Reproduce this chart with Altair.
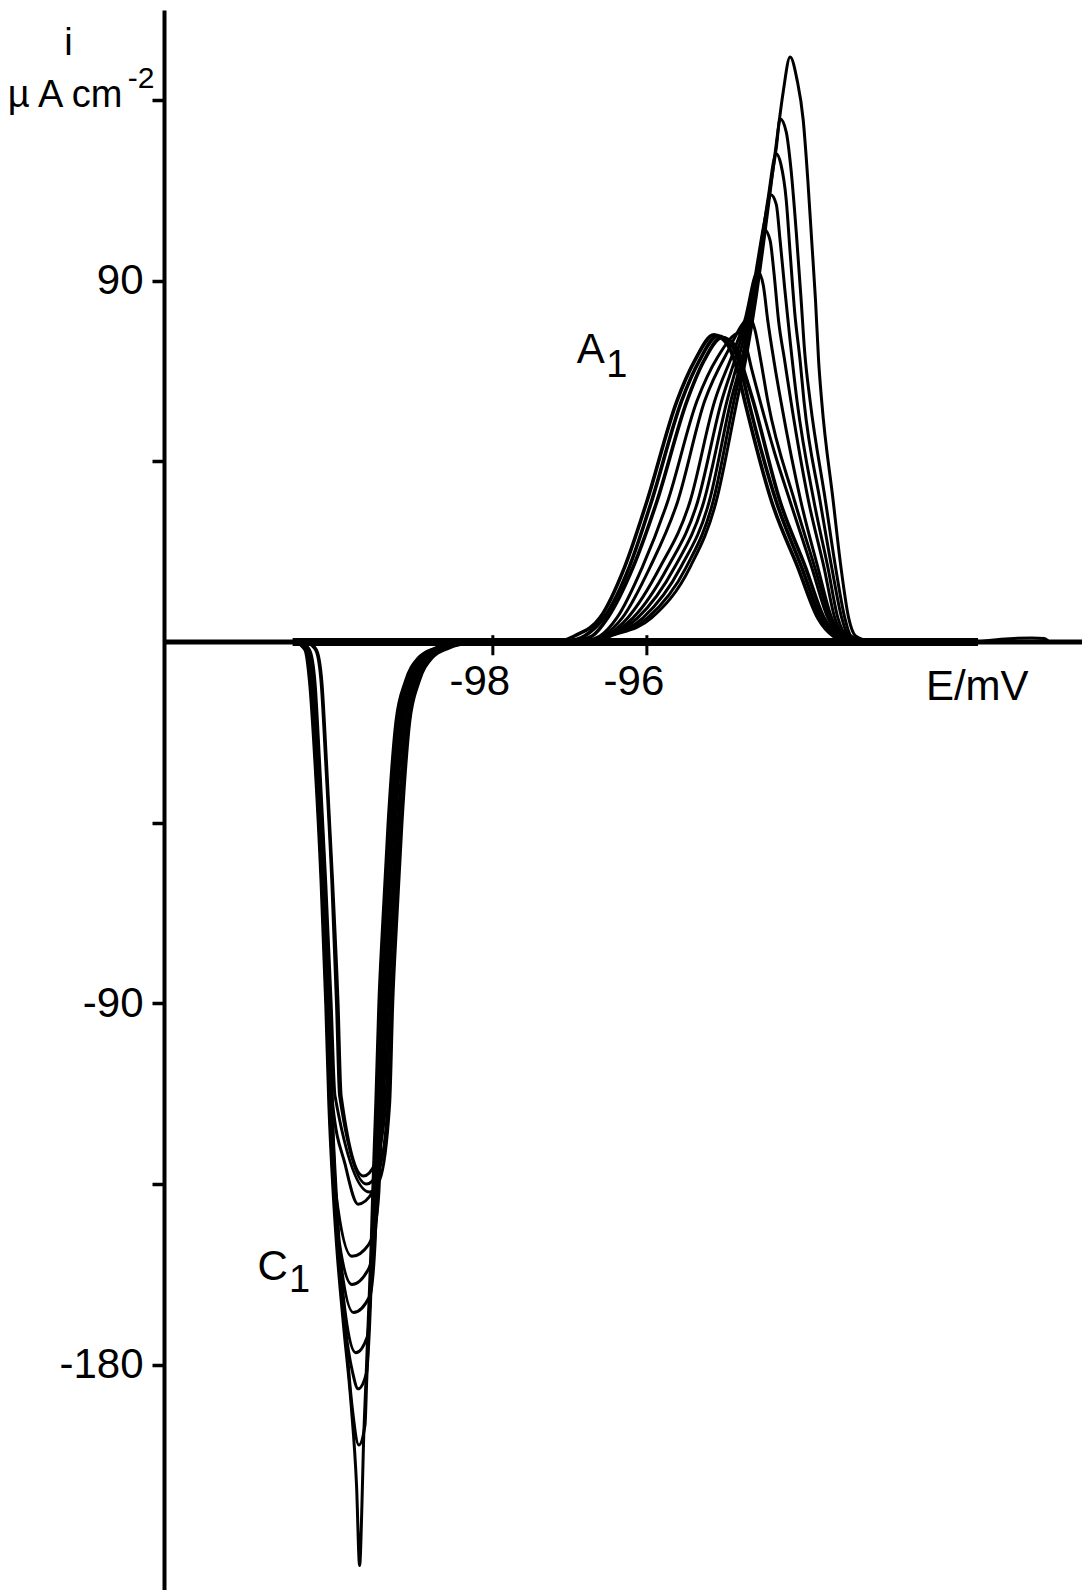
import altair as alt
import pandas as pd

# ---------------- data (E in mV, i in uA cm^-2) ----------------
# anodic peak A1 : successive sweeps (a1-a3 = thick group, a11 = tallest)
anodic_1 = [(-97.13, 0), (-96.94, 1.5), (-96.61, 6), (-96.29, 18.6), (-96.00, 35), (-95.61, 60), (-95.38, 70),
            (-95.13, 76.5), (-94.95, 74), (-94.83, 68), (-94.73, 60), (-94.38, 35), (-94.04, 18.6), (-93.78, 6),
            (-93.58, 1.5), (-93.36, 0)]
anodic_2 = [(-97.06, 0), (-96.81, 1.5), (-96.56, 6), (-96.23, 18.6), (-95.94, 35), (-95.55, 60), (-95.32, 70),
            (-95.08, 76.2), (-94.90, 74), (-94.78, 68), (-94.68, 60), (-94.32, 35), (-93.99, 18.6), (-93.74, 6),
            (-93.55, 1.5), (-93.34, 0)]
anodic_3 = [(-97.00, 0), (-96.71, 1.5), (-96.51, 6), (-96.18, 18.6), (-95.87, 35), (-95.48, 60), (-95.26, 70),
            (-95.03, 75.8), (-94.84, 73.5), (-94.73, 67), (-94.62, 60), (-94.27, 35), (-93.94, 18.6), (-93.70, 6),
            (-93.52, 1.5), (-93.31, 0)]
anodic_4 = [(-96.87, 0), (-96.61, 1.5), (-96.39, 6), (-96.06, 18.6), (-95.73, 35), (-95.35, 60), (-95.08, 71),
            (-94.79, 77), (-94.73, 75), (-94.64, 68), (-94.53, 60), (-94.34, 47), (-94.14, 35), (-93.86, 18.6),
            (-93.65, 6), (-93.49, 1.5), (-93.29, 0)]
anodic_5 = [(-96.81, 0), (-96.57, 1.5), (-96.32, 6), (-95.96, 18.6), (-95.60, 35), (-95.25, 60), (-94.96, 72),
            (-94.66, 80.6), (-94.60, 78), (-94.52, 70), (-94.43, 60), (-94.08, 35), (-93.82, 18.6), (-93.62, 6),
            (-93.47, 1.5), (-93.26, 0)]
anodic_6 = [(-96.77, 0), (-96.53, 1.5), (-96.25, 6), (-95.83, 18.6), (-95.44, 35), (-95.12, 60), (-94.88, 72),
            (-94.73, 80), (-94.56, 92.3), (-94.49, 89), (-94.43, 80), (-94.35, 70), (-94.26, 60), (-94.00, 35),
            (-93.78, 18.6), (-93.60, 6), (-93.45, 1.5), (-93.23, 0)]
anodic_7 = [(-96.74, 0), (-96.52, 1.5), (-96.18, 6), (-95.73, 18.6), (-95.34, 35), (-95.03, 60), (-94.83, 72),
            (-94.69, 82), (-94.57, 92), (-94.47, 102.7), (-94.40, 100), (-94.35, 92), (-94.29, 80), (-94.21, 70),
            (-94.13, 60), (-93.90, 35), (-93.70, 18.6), (-93.56, 6), (-93.43, 1.5), (-93.21, 0)]
anodic_8 = [(-96.73, 0), (-96.51, 1.5), (-96.12, 6), (-95.64, 18.6), (-95.26, 35), (-94.96, 60), (-94.79, 72),
            (-94.66, 83), (-94.56, 95), (-94.47, 105), (-94.39, 111.4), (-94.32, 109), (-94.27, 100), (-94.21, 88),
            (-94.14, 75), (-94.05, 60), (-93.83, 35), (-93.65, 18.6), (-93.52, 6), (-93.40, 1.5), (-93.18, 0)]
anodic_9 = [(-96.71, 0), (-96.49, 1.5), (-96.05, 6), (-95.56, 18.6), (-95.19, 35), (-94.91, 60), (-94.75, 72),
            (-94.64, 84), (-94.53, 97), (-94.43, 110), (-94.32, 121.6), (-94.26, 119), (-94.19, 110), (-94.14, 97),
            (-94.08, 82), (-94.01, 70), (-93.96, 60), (-93.75, 35), (-93.60, 18.6), (-93.47, 6), (-93.38, 1.5),
            (-93.16, 0)]
anodic_10 = [(-96.70, 0), (-96.48, 1.5), (-95.99, 6), (-95.49, 18.6), (-95.14, 35), (-94.87, 60), (-94.73, 72),
             (-94.61, 85), (-94.51, 98), (-94.40, 113), (-94.32, 123), (-94.27, 130.3), (-94.19, 127), (-94.13, 118),
             (-94.06, 102), (-94.00, 86), (-93.95, 72), (-93.88, 60), (-93.68, 35), (-93.55, 18.6), (-93.43, 6),
             (-93.35, 1.5), (-93.13, 0)]
anodic_11 = [(-96.69, 0), (-96.47, 1.5), (-95.94, 6), (-95.44, 18.6), (-95.10, 35), (-94.83, 60), (-94.70, 72),
             (-94.58, 86), (-94.48, 100), (-94.38, 115), (-94.30, 127), (-94.23, 137), (-94.14, 145.7), (-94.05, 140),
             (-93.97, 130), (-93.91, 115), (-93.86, 100), (-93.81, 85), (-93.77, 70), (-93.73, 60), (-93.58, 35),
             (-93.48, 18.6), (-93.38, 6), (-93.29, 1.5), (-93.08, 0)]

# cathodic peak C1 : successive sweeps (c1-c3 = thick group, c11 = deepest)
cathodic_1 = [(-100.40, 0), (-100.29, -2), (-100.22, -10), (-100.16, -30), (-100.08, -60), (-100.01, -90),
              (-99.97, -113), (-99.68, -133), (-99.53, -130), (-99.39, -115), (-99.35, -90), (-99.30, -70),
              (-99.23, -45), (-99.13, -20), (-99.01, -10), (-98.84, -4), (-98.62, -1.5), (-98.27, 0)]
cathodic_2 = [(-100.42, 0), (-100.30, -2), (-100.23, -10), (-100.17, -30), (-100.09, -60), (-100.03, -90),
              (-99.99, -113), (-99.64, -135), (-99.49, -132), (-99.36, -115), (-99.32, -90), (-99.27, -70),
              (-99.21, -45), (-99.10, -20), (-98.99, -10), (-98.82, -4), (-98.60, -1.5), (-98.25, 0)]
cathodic_3 = [(-100.49, 0), (-100.38, -2), (-100.31, -10), (-100.25, -30), (-100.17, -60), (-100.10, -90),
              (-100.05, -113), (-99.60, -137), (-99.47, -134), (-99.34, -115), (-99.30, -90), (-99.25, -70),
              (-99.18, -45), (-99.08, -20), (-98.96, -10), (-98.79, -4), (-98.57, -1.5), (-98.22, 0)]
cathodic_4 = [(-100.51, 0), (-100.39, -2), (-100.32, -10), (-100.26, -30), (-100.18, -60), (-100.12, -90),
              (-100.08, -115), (-99.92, -130), (-99.75, -140), (-99.56, -137), (-99.42, -115), (-99.38, -90),
              (-99.32, -70), (-99.26, -45), (-99.16, -20), (-99.04, -10), (-98.87, -4), (-98.65, -1.5), (-98.30, 0)]
cathodic_5 = [(-100.52, 0), (-100.40, -2), (-100.34, -10), (-100.27, -30), (-100.19, -60), (-100.13, -90),
              (-100.09, -115), (-100.04, -137), (-99.83, -153), (-99.61, -150), (-99.51, -143), (-99.48, -137),
              (-99.44, -115), (-99.40, -90), (-99.35, -70), (-99.29, -45), (-99.18, -20), (-99.06, -10),
              (-98.90, -4), (-98.68, -1.5), (-98.32, 0)]
cathodic_6 = [(-100.52, 0), (-100.40, -2), (-100.34, -10), (-100.27, -30), (-100.19, -60), (-100.13, -90),
              (-100.09, -115), (-100.04, -135), (-99.99, -150), (-99.83, -160), (-99.61, -156), (-99.53, -148),
              (-99.49, -137), (-99.45, -115), (-99.42, -90), (-99.36, -70), (-99.30, -45), (-99.19, -20),
              (-99.08, -10), (-98.91, -4), (-98.69, -1.5), (-98.34, 0)]
cathodic_7 = [(-100.53, 0), (-100.42, -2), (-100.35, -10), (-100.29, -30), (-100.21, -60), (-100.14, -90),
              (-100.10, -115), (-100.05, -135), (-99.99, -152), (-99.81, -167), (-99.60, -163), (-99.53, -150),
              (-99.51, -137), (-99.47, -115), (-99.43, -90), (-99.38, -70), (-99.31, -45), (-99.21, -20),
              (-99.09, -10), (-98.92, -4), (-98.70, -1.5), (-98.35, 0)]
cathodic_8 = [(-100.53, 0), (-100.42, -2), (-100.35, -10), (-100.29, -30), (-100.21, -60), (-100.14, -90),
              (-100.10, -115), (-100.05, -135), (-100.00, -150), (-99.91, -168), (-99.78, -177), (-99.63, -173),
              (-99.58, -160), (-99.55, -150), (-99.52, -137), (-99.48, -115), (-99.44, -90), (-99.39, -70),
              (-99.32, -45), (-99.22, -20), (-99.10, -10), (-98.94, -4), (-98.71, -1.5), (-98.36, 0)]
cathodic_9 = [(-100.55, 0), (-100.43, -2), (-100.36, -10), (-100.30, -30), (-100.22, -60), (-100.16, -90),
              (-100.12, -115), (-100.07, -135), (-100.01, -150), (-99.92, -170), (-99.82, -182), (-99.75, -186),
              (-99.64, -182), (-99.60, -170), (-99.56, -150), (-99.53, -137), (-99.49, -115), (-99.45, -90),
              (-99.40, -70), (-99.34, -45), (-99.23, -20), (-99.12, -10), (-98.95, -4), (-98.73, -1.5), (-98.38, 0)]
cathodic_10 = [(-100.55, 0), (-100.43, -2), (-100.36, -10), (-100.30, -30), (-100.22, -60), (-100.16, -90),
               (-100.12, -115), (-100.07, -135), (-100.01, -150), (-99.92, -170), (-99.83, -190), (-99.74, -200),
               (-99.66, -195), (-99.64, -185), (-99.61, -170), (-99.57, -150), (-99.55, -137), (-99.51, -115),
               (-99.47, -90), (-99.42, -70), (-99.35, -45), (-99.25, -20), (-99.13, -10), (-98.96, -4),
               (-98.74, -1.5), (-98.39, 0)]
cathodic_11 = [(-100.56, 0), (-100.44, -2), (-100.38, -10), (-100.31, -30), (-100.23, -60), (-100.17, -90),
               (-100.13, -115), (-100.08, -135), (-100.03, -150), (-99.94, -170), (-99.84, -190), (-99.77, -210),
               (-99.73, -230), (-99.70, -215), (-99.68, -200), (-99.65, -185), (-99.62, -170), (-99.58, -150),
               (-99.56, -137), (-99.52, -115), (-99.48, -90), (-99.43, -70), (-99.36, -45), (-99.26, -20),
               (-99.14, -10), (-98.97, -4), (-98.75, -1.5), (-98.40, 0)]

# small loop on the baseline near the right end
baseline_loop = [(-91.71, 0), (-91.40, 0.7), (-91.00, 1.0), (-90.84, 0.9), (-90.79, 0.3)]

# stretch of the baseline retraced by all sweeps
baseline_trace_E = [-100.6, -91.7]

x_domain = [-102.27, -90.35]
y_domain = [-236.1, 157.4]

x_tick_values = [-98, -96]
x_tick_labels = ["-98", "-96"]
y_tick_values = [135, 90, 45, -45, -90, -135, -180]

peak_letters = ["A", "C"]
peak_letters_E = [-96.73, -100.86]
peak_letters_i = [69.5, -158.9]
peak_subs = ["1", "1"]
peak_subs_E = [-96.39, -100.51]
peak_subs_i = [66.0, -161.9]

x_title = "E/mV"
x_title_E = -91.71
y_title_top = "i"
y_title_main = "\u00b5 A cm"
y_title_sup = "-2"
y_title_E = [-103.51, -104.30, -102.74]
y_title_i = [146.2, 133.3, 138.0]

# ---------------- build tables ----------------
thick_names = {"a1", "a2", "a3"}
curve_sets = [("a%d" % (n + 1), c) for n, c in enumerate(
    [anodic_1, anodic_2, anodic_3, anodic_4, anodic_5, anodic_6, anodic_7, anodic_8, anodic_9, anodic_10, anodic_11])]
curve_sets += [("c%d" % (n + 1), c) for n, c in enumerate(
    [cathodic_1, cathodic_2, cathodic_3, cathodic_4, cathodic_5, cathodic_6, cathodic_7, cathodic_8, cathodic_9,
     cathodic_10, cathodic_11])]
curve_sets += [("loop", baseline_loop)]

rows = []
for name, pts in curve_sets:
    for k, (e, i) in enumerate(pts):
        rows.append({"curve": name, "E": e, "i": i, "k": k, "thick": name in thick_names})
df = pd.DataFrame(rows)

FONT = "Liberation Sans"
xs = alt.Scale(domain=x_domain, nice=False, zero=False)
ys = alt.Scale(domain=y_domain, nice=False, zero=False)

label_expr = ("datum.value == 90 ? '90' : datum.value == -90 ? '-90' : "
              "datum.value == -180 ? '-180' : ''")

y_axis = alt.Axis(values=y_tick_values, labelExpr=label_expr, title=None, grid=False,
                  domainColor="black", domainWidth=4, tickColor="black", tickWidth=3.5, tickSize=12,
                  labelFont=FONT, labelFontSize=42, labelColor="black", labelPadding=9,
                  labelOverlap=False, labelFlush=False)

curves = alt.Chart(df).mark_line(color="black", interpolate="monotone").encode(
    x=alt.X("E:Q", scale=xs, axis=None),
    y=alt.Y("i:Q", scale=ys, axis=y_axis),
    detail="curve:N",
    order="k:Q",
    strokeWidth=alt.condition("datum.thick", alt.value(3.6), alt.value(3)),
)

zero_df = pd.DataFrame({"i": [0]})
zero_line = alt.Chart(zero_df).mark_rule(color="black", strokeWidth=5).encode(
    y=alt.Y("i:Q", scale=ys))

trace_df = pd.DataFrame({"E": [baseline_trace_E[0]], "E2": [baseline_trace_E[1]], "i": [0]})
trace = alt.Chart(trace_df).mark_rule(color="black", strokeWidth=8).encode(
    x=alt.X("E:Q", scale=xs), x2="E2:Q", y=alt.Y("i:Q", scale=ys))

xt_df = pd.DataFrame({"E": x_tick_values, "label": x_tick_labels})
x_ticks = alt.Chart(xt_df).mark_rule(color="black", strokeWidth=3).encode(
    x=alt.X("E:Q", scale=xs), y=alt.datum(1.7), y2=alt.datum(-3.3))
x_labels = alt.Chart(xt_df).mark_text(font=FONT, fontSize=42, color="black", align="center",
                                      baseline="alphabetic", dx=-13, dy=53).encode(
    x=alt.X("E:Q", scale=xs), y=alt.datum(0), text="label:N")

xtitle_df = pd.DataFrame({"E": [x_title_E], "t": [x_title]})
x_title_mark = alt.Chart(xtitle_df).mark_text(font=FONT, fontSize=42, color="black", align="center",
                                              baseline="alphabetic", dy=58).encode(
    x=alt.X("E:Q", scale=xs), y=alt.datum(0), text="t:N")

letters_df = pd.DataFrame({"E": peak_letters_E, "i": peak_letters_i, "t": peak_letters})
letters = alt.Chart(letters_df).mark_text(font=FONT, fontSize=42, color="black", align="center",
                                          baseline="alphabetic").encode(
    x=alt.X("E:Q", scale=xs), y=alt.Y("i:Q", scale=ys), text="t:N")
subs_df = pd.DataFrame({"E": peak_subs_E, "i": peak_subs_i, "t": peak_subs})
subs = alt.Chart(subs_df).mark_text(font=FONT, fontSize=38, color="black", align="center",
                                    baseline="alphabetic").encode(
    x=alt.X("E:Q", scale=xs), y=alt.Y("i:Q", scale=ys), text="t:N")

yt_df = pd.DataFrame({"E": y_title_E, "i": y_title_i, "t": [y_title_top, y_title_main, y_title_sup]})
yt_i = alt.Chart(yt_df.iloc[[0]]).mark_text(font=FONT, fontSize=38, color="black", align="center",
                                           baseline="alphabetic").encode(
    x=alt.X("E:Q", scale=xs), y=alt.Y("i:Q", scale=ys), text="t:N")
yt_main = alt.Chart(yt_df.iloc[[1]]).mark_text(font=FONT, fontSize=38, color="black", align="left",
                                              baseline="alphabetic").encode(
    x=alt.X("E:Q", scale=xs), y=alt.Y("i:Q", scale=ys), text="t:N")
yt_sup = alt.Chart(yt_df.iloc[[2]]).mark_text(font=FONT, fontSize=30, color="black", align="left",
                                             baseline="alphabetic").encode(
    x=alt.X("E:Q", scale=xs), y=alt.Y("i:Q", scale=ys), text="t:N")

chart = alt.layer(curves, zero_line, trace, x_ticks, x_labels, x_title_mark, letters, subs,
                  yt_i, yt_main, yt_sup).properties(
    width=918, height=1580,
    padding={"left": 164, "top": 10, "right": 0, "bottom": 0},
    autosize=alt.AutoSizeParams(type="none"),
    background="white",
).configure_view(stroke=None)

chart.save("out.html", embed_options={"renderer": "svg", "actions": False})
